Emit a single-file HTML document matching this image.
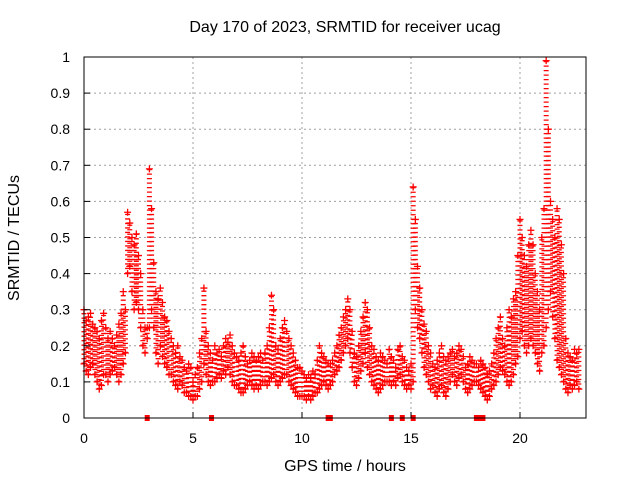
<!DOCTYPE html>
<html><head><meta charset="utf-8"><style>
body{margin:0;background:#fff;}
svg text{font-family:"Liberation Sans",sans-serif;font-size:14px;fill:#000;}
svg text.big{font-size:16px;}
</style></head><body>
<svg id="chart" width="640" height="480" xmlns="http://www.w3.org/2000/svg">
<text class="big" x="345" y="32" text-anchor="middle">Day 170 of 2023, SRMTID for receiver ucag</text>
<text class="big" x="345" y="471" text-anchor="middle">GPS time / hours</text>
<text class="big" x="0" y="0" transform="translate(19,238) rotate(-90)" text-anchor="middle">SRMTID / TECUs</text>
<g id="grid"></g>
<g id="marks"></g>
<rect x="84" y="57" width="502" height="361" fill="none" stroke="#000" stroke-width="1"/>
<g id="ticks"></g>
</svg>
<script>
const xTicks=[0,5,10,15,20];
const yTicks=[0,0.1,0.2,0.3,0.4,0.5,0.6,0.7,0.8,0.9,1];
const yTickLabels=["0","0.1","0.2","0.3","0.4","0.5","0.6","0.7","0.8","0.9","1"];
const startHour=0, stepHour=0.1;
const hiVals=[
0.30,0.27,0.28,0.29,0.26,0.25,0.24,0.22,0.27,0.29,
0.25,0.22,0.24,0.22,0.20,0.23,0.26,0.29,0.35,0.30,
0.57,0.54,0.50,0.48,0.51,0.45,0.40,0.30,0.25,0.25,
0.69,0.58,0.43,0.35,0.33,0.36,0.32,0.28,0.27,0.24,
0.22,0.20,0.18,0.20,0.17,0.16,0.14,0.13,0.15,0.14,
0.10,0.12,0.14,0.18,0.22,0.36,0.24,0.20,0.18,0.16,
0.20,0.18,0.19,0.17,0.20,0.22,0.21,0.23,0.20,0.18,
0.17,0.16,0.18,0.20,0.17,0.15,0.16,0.18,0.17,0.16,
0.17,0.18,0.16,0.18,0.20,0.25,0.34,0.30,0.20,0.19,
0.22,0.25,0.27,0.24,0.22,0.20,0.18,0.16,0.14,0.14,
0.13,0.12,0.11,0.12,0.11,0.13,0.12,0.16,0.20,0.18,
0.17,0.16,0.15,0.15,0.16,0.18,0.20,0.23,0.25,0.28,
0.30,0.33,0.30,0.24,0.18,0.17,0.20,0.24,0.28,0.32,
0.30,0.25,0.20,0.19,0.17,0.16,0.18,0.17,0.16,0.15,
0.19,0.17,0.16,0.14,0.19,0.20,0.17,0.16,0.14,0.13,
0.15,0.64,0.55,0.42,0.36,0.30,0.26,0.24,0.20,0.18,
0.15,0.14,0.16,0.18,0.20,0.17,0.16,0.17,0.18,0.19,
0.17,0.18,0.20,0.19,0.17,0.14,0.15,0.17,0.16,0.15,
0.15,0.14,0.16,0.15,0.14,0.12,0.13,0.15,0.18,0.22,
0.25,0.28,0.22,0.20,0.25,0.30,0.28,0.33,0.35,0.45,
0.55,0.50,0.45,0.42,0.48,0.52,0.48,0.40,0.35,0.30,
0.50,0.58,0.99,0.80,0.60,0.55,0.50,0.58,0.55,0.48,
0.40,0.22,0.18,0.17,0.16,0.19,0.18,0.19];
const loVals=[
0.15,0.13,0.12,0.14,0.15,0.12,0.10,0.08,0.09,0.12,
0.12,0.10,0.12,0.13,0.14,0.12,0.10,0.12,0.15,0.18,
0.40,0.42,0.35,0.30,0.32,0.30,0.25,0.20,0.18,0.22,
0.25,0.30,0.25,0.18,0.15,0.20,0.17,0.15,0.14,0.12,
0.12,0.10,0.09,0.08,0.10,0.09,0.07,0.07,0.06,0.06,
0.05,0.06,0.06,0.08,0.10,0.15,0.12,0.10,0.09,0.10,
0.10,0.11,0.12,0.11,0.13,0.12,0.14,0.12,0.10,0.09,
0.09,0.08,0.07,0.07,0.08,0.09,0.10,0.09,0.08,0.09,
0.08,0.09,0.10,0.10,0.09,0.10,0.11,0.12,0.10,0.09,
0.10,0.11,0.12,0.12,0.10,0.09,0.08,0.07,0.06,0.06,
0.06,0.06,0.05,0.06,0.05,0.06,0.07,0.07,0.08,0.09,
0.10,0.09,0.08,0.09,0.10,0.12,0.13,0.14,0.16,0.18,
0.20,0.22,0.18,0.14,0.10,0.09,0.11,0.13,0.15,0.18,
0.14,0.12,0.10,0.09,0.08,0.07,0.08,0.09,0.10,0.10,
0.10,0.09,0.10,0.09,0.11,0.12,0.10,0.09,0.08,0.09,
0.08,0.10,0.30,0.25,0.22,0.18,0.14,0.12,0.10,0.08,
0.09,0.07,0.06,0.08,0.09,0.07,0.06,0.08,0.10,0.12,
0.10,0.09,0.11,0.12,0.10,0.08,0.07,0.08,0.09,0.10,
0.10,0.09,0.08,0.07,0.06,0.05,0.06,0.08,0.09,0.10,
0.12,0.14,0.13,0.12,0.10,0.09,0.10,0.12,0.15,0.17,
0.22,0.24,0.20,0.18,0.20,0.22,0.20,0.18,0.15,0.13,
0.18,0.20,0.25,0.30,0.35,0.28,0.22,0.16,0.14,0.12,
0.10,0.08,0.07,0.09,0.08,0.09,0.10,0.08];
const zeroHours=[2.9,5.85,11.2,11.3,14.1,14.6,15.1,18.0,18.15,18.3];

const X0=84,PXH=21.8,Y0=418,PXU=361;
const sx=h=>X0+h*PXH, sy=v=>Y0-v*PXU;
const NS="http://www.w3.org/2000/svg";
const grid=document.getElementById('grid'),ticks=document.getElementById('ticks'),marks=document.getElementById('marks');
function mk(tag,attrs,parent){const e=document.createElementNS(NS,tag);for(const k in attrs)e.setAttribute(k,attrs[k]);parent.appendChild(e);return e;}
xTicks.forEach(t=>{const x=sx(t);
 if(t>0){const g=mk('line',{x1:x,x2:x,y1:57,y2:418,stroke:'#a0a0a0','stroke-dasharray':'2,3'},grid);
 
 }
 const tk=mk('line',{x1:x,x2:x,y1:418,y2:412,stroke:'#000'},ticks);
 
 
 const l=mk('text',{x:x,y:443,'text-anchor':'middle'},ticks);l.textContent=String(t);
 
 
});
yTicks.forEach((t,i)=>{const y=sy(t);
 if(t>0&&t<1){const g=mk('line',{x1:84,x2:586,y1:y,y2:y,stroke:'#a0a0a0','stroke-dasharray':'2,3'},grid);
 
 }
 const tk=mk('line',{x1:84,x2:90,y1:y,y2:y,stroke:'#000'},ticks);
 
 
 const l=mk('text',{x:70,y:y+5,'text-anchor':'end'},ticks);l.textContent=yTickLabels[i];
 
 
});
function plus(x,y,col){const p=mk('path',{d:`M${x-3.5},${y}H${x+3.5}M${x},${y-3.5}V${y+3.5}`,stroke:col,'stroke-width':1.3,fill:'none'},marks);
 
 }
hiVals.forEach((v,i)=>{const h=startHour+i*stepHour,x=sx(h);
 const r=mk('line',{x1:x,x2:x,y1:sy(loVals[i]),y2:sy(v),stroke:'#f00','stroke-width':5,'stroke-dasharray':'1.3,3.2'},marks);
 
 
 plus(x,sy(v),'#f00');plus(x,sy(loVals[i]),'#f00');
});
zeroHours.forEach(h=>{const r=mk('rect',{x:sx(h)-2.5,y:415,width:5,height:6,fill:'#f00'},marks);
 
 });
</script>
</body></html>
